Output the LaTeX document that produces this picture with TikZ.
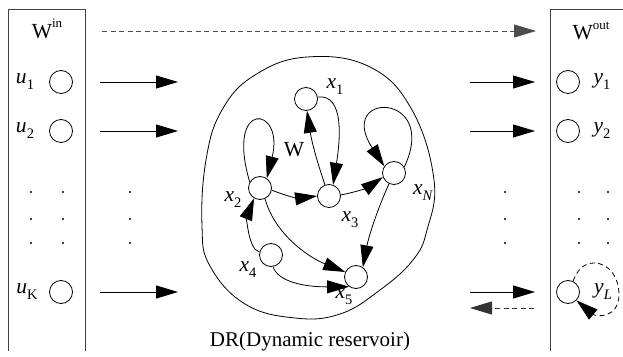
\documentclass[tikz,border=0pt]{standalone}
\usepackage{fontspec}
\setmainfont{Liberation Serif}
\usetikzlibrary{arrows.meta}
\newcommand\subx[1]{\raisebox{-0.28em}{\fontsize{14.5}{14.5}\selectfont #1}}
\newcommand\supx[1]{\raisebox{0.5em}{\fontsize{13}{13}\selectfont #1}}
\begin{document}
\begin{tikzpicture}[x=1pt,y=1pt,
  every node/.style={font=\fontsize{21.5}{24}\selectfont, inner sep=0pt},
  nd/.style={circle,draw,line width=0.8pt,minimum size=23pt,inner sep=0pt},
  arr/.style={line width=0.8pt,-{Triangle[length=22pt,width=13pt]}},
  dsh/.style={dash pattern=on 5pt off 3.5pt},
  boxline/.style={line width=0.7pt,black!75},
  dotn/.style={circle,fill,minimum size=2.2pt,inner sep=0pt}]
\useasboundingbox (0,0) rectangle (623,356);
% side boxes
\draw[boxline] (8,5) -- (8,347) -- (85,347) -- (85,5);
\draw[boxline] (550,5) -- (550,347) -- (623,347);
\node (win) at (47,327) {W\supx{in}};
\node (wout) at (591,325) {W\supx{out}};
% input units
\node[nd] (u1) at (61,274) {};
\node[nd] (u2) at (61,225) {};
\node[nd] (uK) at (61,64) {};
\node (lu1) at (25,274) {\textit{u}\subx{1}};
\node (lu2) at (25,225) {\textit{u}\subx{2}};
\node (luK) at (27,64) {\textit{u}\subx{K}};
% output units
\node[nd] (y1) at (568,274) {};
\node[nd] (y2) at (568,225) {};
\node[nd] (yL) at (568,64) {};
\node (ly1) at (602,274) {\textit{y}\subx{1}};
\node (ly2) at (602,225) {\textit{y}\subx{2}};
\node (lyL) at (603,64) {\textit{y}\subx{\textit{L}}};
% dots
\foreach \c/\xx in {a/31,b/63,c/130,d/505,e/579,f/608}{
  \foreach \r/\yy in {1/164,2/137,3/113}{
    \node[dotn] (dot\c\r) at (\xx,\yy) {};
  }
}
% horizontal arrows
\coordinate (ia1) at (100,274); \coordinate (ib1) at (178,274);
\coordinate (ia2) at (100,225); \coordinate (ib2) at (178,225);
\coordinate (ia3) at (100,64);  \coordinate (ib3) at (178,64);
\coordinate (oa1) at (470,274); \coordinate (ob1) at (535,274);
\coordinate (oa2) at (470,225); \coordinate (ob2) at (535,225);
\coordinate (oa3) at (470,64);  \coordinate (ob3) at (535,64);
\coordinate (ta) at (102,325); \coordinate (tb) at (536,325);
\coordinate (ba) at (534,48);  \coordinate (bb) at (470,48);
\foreach \i in {1,2,3}{
  \draw[arr] (ia\i) -- (ib\i);
  \draw[arr] (oa\i) -- (ob\i);
}
\draw[arr,dsh,black!70] (ta) -- (tb);
\draw[arr,dsh,black!80] (ba) -- (bb);
% reservoir outline
\draw[line width=0.8pt] plot[smooth cycle, tension=0.7] coordinates {
  (307,299) (370,289) (412,246) (434,176) (427,126) (413,96) (380,66)
  (340,42) (295,38) (245,52) (210,90) (202,130) (206,196) (222,246) (255,281)};
\node (dr) at (310,10) [anchor=base, font=\fontsize{21}{24}\selectfont] {DR(Dynamic reservoir)};
% reservoir units
\node[nd] (x1) at (306,257) {};
\node[nd] (x2) at (260,168) {};
\node[nd] (x3) at (329,160) {};
\node[nd] (xN) at (394,183) {};
\node[nd] (x4) at (271,101) {};
\node[nd] (x5) at (356,79) {};
\node (lx1) at (335,269) {\textit{x}\subx{1}};
\node (lx2) at (233,156) {\textit{x}\subx{2}};
\node (lx3) at (350,136) {\textit{x}\subx{3}};
\node (lxN) at (423,163) {\textit{x}\subx{\textit{N}}};
\node (lx4) at (248,86) {\textit{x}\subx{4}};
\node (lx5) at (344,59) {\textit{x}\subx{5}};
\node (lw) at (294,206) {W};
% reservoir connections
\draw[arr] (x2.150) .. controls (225,258) and (285,250) .. (x2.55);
\draw[arr] (x2.-10) to[bend right=15] (x3.west);
\draw[arr] (x3.110) to[bend left=5] (x1.-85);
\draw[arr] (x1.10) .. controls (345,262) and (340,215) .. (x3.70);
\draw[arr] (x3.5) to[bend right=12] (xN.200);
\draw[arr] (xN.30) .. controls (440,265) and (335,265) .. (xN.145);
\draw[arr] (xN.245) .. controls (375,141) and (368,116) .. (x5.55);
\draw[arr] (x2.-65) .. controls (275,121) and (310,98) .. (x5.155);
\draw[arr] (x4.165) .. controls (248,106) and (247,140) .. (x2.-120);
\draw[arr] (x4.-80) .. controls (278,74) and (305,69) .. (x5.-125);
% output feedback loop
\draw[arr,dsh] (yL.65) to[out=70,in=180] (594,93) to[out=0,in=90] (619,62) to[out=-90,in=-40,looseness=1.5] (yL.-45);
\end{tikzpicture}
\end{document}
